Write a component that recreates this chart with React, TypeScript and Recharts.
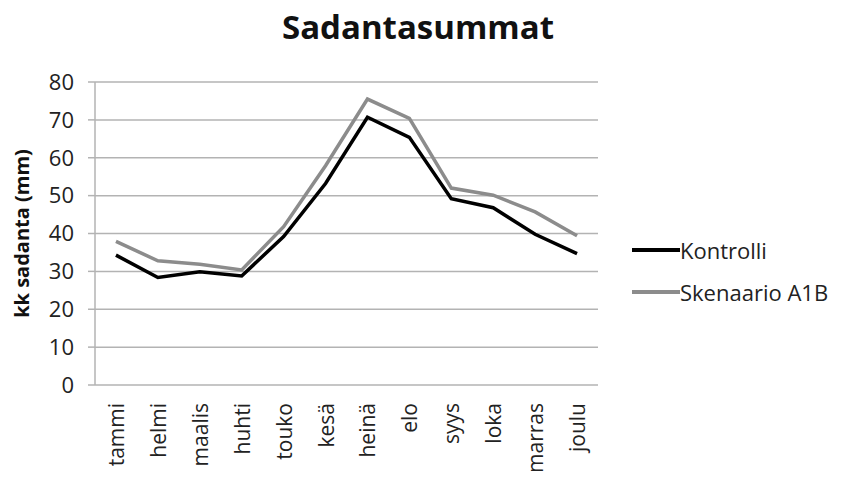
import React from 'react';
import { LineChart, Line, XAxis, YAxis, CartesianGrid, Legend } from 'recharts';

const months = ['tammi', 'helmi', 'maalis', 'huhti', 'touko', 'kesä', 'heinä', 'elo', 'syys', 'loka', 'marras', 'joulu'];
const kontrolli = [34.3, 28.4, 29.9, 28.8, 39.2, 53.2, 70.7, 65.4, 49.2, 46.8, 39.8, 34.7];
const skenaario = [37.9, 32.8, 31.9, 30.4, 41.8, 57.9, 75.5, 70.4, 52.0, 50.1, 45.7, 39.4];
const yTicks = [0, 10, 20, 30, 40, 50, 60, 70, 80];
const bounds = [0, 1, 2, 3, 4, 5, 6, 7, 8, 9, 10, 11, 12];

const data = months.map((m, i) => ({ month: m, idx: i + 0.5, kontrolli: kontrolli[i], skenaario: skenaario[i] }));

const FONT = '"Open Sans", sans-serif';
const GRID = '#b3b3b3';

// Excel-style tick marks between categories
const BoundTick = (props: any) => {
  const { x, y } = props;
  return <line x1={x} x2={x} y1={y - 7} y2={y} stroke={GRID} strokeWidth={1.5} />;
};

const MonthTick = (props: any) => {
  const { x, y, payload } = props;
  return (
    <text
      x={x}
      y={y}
      transform={`rotate(-90, ${x}, ${y})`}
      textAnchor="end"
      dominantBaseline="central"
      fontSize={21}
      fontFamily={FONT}
      fill="#222"
    >
      {months[Math.round(payload.value - 0.5)]}
    </text>
  );
};

const renderLegend = (props: any) => {
  const { payload } = props;
  return (
    <div style={{ fontFamily: FONT, fontSize: 22, color: '#222' }}>
      {payload.map((entry: any, i: number) => (
        <div key={i} style={{ display: 'flex', alignItems: 'center', height: 42 }}>
          <span style={{ display: 'inline-block', width: 48, height: 4, background: entry.color }} />
          <span>{entry.value}</span>
        </div>
      ))}
    </div>
  );
};

export default function App() {
  return (
    <div style={{ width: 843, height: 479, position: 'relative', margin: -8, background: '#fff' }}>
      <div
        style={{
          position: 'absolute',
          top: 4,
          left: 0,
          width: 836,
          textAlign: 'center',
          fontFamily: FONT,
          fontWeight: 700,
          fontSize: 33,
          color: '#111',
        }}
      >
        Sadantasummat
      </div>
      <LineChart width={843} height={479} data={data} margin={{ top: 82, right: 245, left: 0, bottom: 0 }}>
        <CartesianGrid vertical={false} stroke={GRID} strokeWidth={1.5} />
        <XAxis
          xAxisId="a"
          dataKey="idx"
          type="number"
          domain={[0, 12]}
          ticks={bounds}
          tick={<BoundTick />}
          tickLine={false}
          tickSize={7}
          tickMargin={0}
          stroke={GRID}
          strokeWidth={1.5}
          height={0}
        />
        <XAxis
          xAxisId="b"
          dataKey="idx"
          type="number"
          domain={[0, 12]}
          ticks={data.map((d) => d.idx)}
          tick={<MonthTick />}
          tickLine={false}
          axisLine={false}
          tickMargin={12}
          height={94}
        />
        <YAxis
          domain={[0, 80]}
          ticks={yTicks}
          width={95}
          stroke={GRID}
          strokeWidth={1.5}
          tickSize={7}
          tickMargin={14}
          tick={{ fontSize: 22, fontFamily: FONT, fill: '#222' }}
          label={{
            value: 'kk sadanta (mm)',
            angle: -90,
            position: 'insideLeft',
            offset: 22,
            style: { textAnchor: 'middle', fontSize: 20, fontWeight: 700, fontFamily: FONT, fill: '#111' },
          }}
        />
        <Line
          xAxisId="a"
          type="linear"
          dataKey="kontrolli"
          name="Kontrolli"
          stroke="#000"
          strokeWidth={3.5}
          dot={false}
          isAnimationActive={false}
        />
        <Line
          xAxisId="a"
          type="linear"
          dataKey="skenaario"
          name="Skenaario A1B"
          stroke="#8c8c8c"
          strokeWidth={3.5}
          dot={false}
          isAnimationActive={false}
        />
        <Legend
          layout="vertical"
          align="center"
          verticalAlign="middle"
          content={renderLegend}
          wrapperStyle={{ left: 632, top: 229, width: 210 }}
        />
      </LineChart>
    </div>
  );
}
